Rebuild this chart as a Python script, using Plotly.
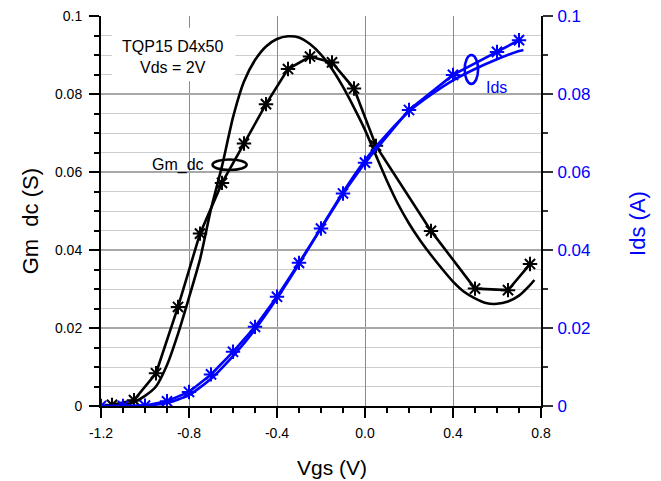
import plotly.graph_objects as go

# ---------------- data ----------------
# Measured Gm_dc (S) vs Vgs (V)
gm_meas_v = [-1.15, -1.05, -0.95, -0.85, -0.75, -0.65, -0.55, -0.45, -0.35, -0.25,
             -0.15, -0.05, 0.05, 0.3, 0.5, 0.65, 0.75]
gm_meas = [0.0003, 0.0015, 0.0084, 0.0254, 0.0442, 0.0572, 0.0673, 0.0774, 0.0864, 0.0896,
           0.0881, 0.0814, 0.0667, 0.0449, 0.0301, 0.0297, 0.0364]

# Modelled Gm_dc (S) vs Vgs (V)
gm_mod_v = [-1.2, -1.15, -1.1, -1.05, -1.0, -0.95, -0.9, -0.85, -0.8, -0.75, -0.7, -0.65,
            -0.6, -0.55, -0.5, -0.45, -0.4, -0.35, -0.3, -0.25, -0.2, -0.15, -0.1, -0.05,
            0.0, 0.05, 0.1, 0.15, 0.2, 0.25, 0.3, 0.35, 0.4, 0.45, 0.5, 0.55, 0.6, 0.65,
            0.7, 0.75, 0.77]
gm_mod = [0.0, 0.0001, 0.0003, 0.0010, 0.0026, 0.0050, 0.0105, 0.0185, 0.0278, 0.0376,
          0.0505, 0.0615, 0.0740, 0.0832, 0.0887, 0.0922, 0.0941, 0.0948, 0.0945, 0.0928,
          0.0901, 0.0864, 0.0818, 0.0765, 0.0708, 0.0642, 0.0577, 0.0518, 0.0468, 0.0425,
          0.0387, 0.0352, 0.0319, 0.0293, 0.0276, 0.0264, 0.0262, 0.0268, 0.0283, 0.0310,
          0.0323]

# Measured Ids (A) vs Vgs (V)
ids_meas_v = [-1.2, -1.1, -1.0, -0.9, -0.8, -0.7, -0.6, -0.5, -0.4, -0.3, -0.2, -0.1,
              0.0, 0.2, 0.4, 0.6, 0.7]
ids_meas = [0.0, 0.0, 0.0001, 0.0012, 0.0036, 0.0081, 0.0139, 0.0203, 0.0280, 0.0367,
            0.0455, 0.0545, 0.0624, 0.0759, 0.0849, 0.0908, 0.0938]

# Modelled Ids (A) vs Vgs (V)
ids_mod_v = [-1.2, -1.1, -1.0, -0.9, -0.8, -0.7, -0.6, -0.5, -0.4, -0.3, -0.2, -0.1,
             0.0, 0.1, 0.2, 0.3, 0.4, 0.5, 0.6, 0.7, 0.72]
ids_mod = [0.0, 0.0, 0.0001, 0.0008, 0.0028, 0.0070, 0.0128, 0.0196, 0.0276, 0.0364,
           0.0456, 0.0548, 0.0630, 0.0697, 0.0755, 0.0798, 0.0835, 0.0864, 0.0889, 0.0910,
           0.0913]

x_tick_vals = [-1.2, -0.8, -0.4, 0.0, 0.4, 0.8]
x_tick_text = ["-1.2", "-0.8", "-0.4", "0.0", "0.4", "0.8"]

# ---------------- figure ----------------
FONT = "Arial, Liberation Sans, sans-serif"
BLUE = "#0000ff"

fig = go.Figure()

fig.add_trace(go.Scatter(x=gm_mod_v, y=gm_mod, mode="lines",
                         line=dict(color="black", width=2.6, shape="spline", smoothing=0.6),
                         showlegend=False, hoverinfo="skip"))
fig.add_trace(go.Scatter(x=gm_meas_v, y=gm_meas, mode="lines+markers",
                         line=dict(color="black", width=2.6),
                         marker=dict(symbol="asterisk-open", size=12,
                                     line=dict(color="black", width=2)),
                         showlegend=False))
fig.add_trace(go.Scatter(x=ids_mod_v, y=ids_mod, mode="lines", yaxis="y2",
                         line=dict(color=BLUE, width=2.6, shape="spline", smoothing=0.6),
                         showlegend=False, hoverinfo="skip"))
fig.add_trace(go.Scatter(x=ids_meas_v, y=ids_meas, mode="lines+markers", yaxis="y2",
                         line=dict(color=BLUE, width=2.6),
                         marker=dict(symbol="asterisk-open", size=12,
                                     line=dict(color=BLUE, width=2)),
                         showlegend=False))

fig.update_layout(
    width=661, height=481,
    margin=dict(l=93, r=128, t=8, b=83, autoexpand=False),
    paper_bgcolor="white", plot_bgcolor="white",
    font=dict(family=FONT, color="black"),
    xaxis=dict(
        range=[-1.2, 0.8], tickmode="array", tickvals=x_tick_vals, ticktext=x_tick_text,
        automargin=False,
        ticks="outside", ticklen=10, tickwidth=1.5, tickcolor="black",
        showline=True, linecolor="black", linewidth=2,
        showgrid=True, gridcolor="#8a8a8a", gridwidth=1, zeroline=False,
        tickfont=dict(size=14, color="black"), ticklabelstandoff=3,
        ticklabeloverflow="allow",
        minor=dict(tickmode="linear", tick0=-1.2, dtick=0.1, ticks="outside", ticklen=5,
                   tickwidth=1.5, tickcolor="black", showgrid=False),
    ),
    yaxis=dict(
        range=[0, 0.1], tick0=0, dtick=0.02, automargin=False,
        ticks="outside", ticklen=10, tickwidth=1.5, tickcolor="black",
        showline=True, linecolor="black", linewidth=2,
        showgrid=True, gridcolor="#a8a8a8", gridwidth=1.5, zeroline=False,
        tickfont=dict(size=14, color="black"), ticklabelstandoff=4,
        ticklabeloverflow="allow",
        minor=dict(tick0=0, dtick=0.005, ticks="outside", ticklen=5, tickwidth=1.5,
                   tickcolor="black", showgrid=True, gridcolor="#cdcdcd", gridwidth=1),
    ),
    yaxis2=dict(
        range=[0, 0.1], tick0=0, dtick=0.02, overlaying="y", side="right", automargin=False,
        ticks="outside", ticklen=10, tickwidth=1.5, tickcolor="#333333",
        showline=True, linecolor="black", linewidth=2,
        showgrid=False, zeroline=False,
        tickfont=dict(size=17, color=BLUE), ticklabelstandoff=1,
        ticklabeloverflow="allow",
        minor=dict(tick0=0, dtick=0.01, ticks="outside", ticklen=5, tickwidth=1.5,
                   tickcolor="#333333", showgrid=False),
    ),
)

# white box for the device label
fig.add_shape(type="rect", xref="x", yref="y", x0=-1.149, x1=-0.589, y0=0.0833, y1=0.0970,
              fillcolor="white", line=dict(width=0), layer="above")
fig.add_annotation(x=-0.876, y=0.0894, xref="x", yref="y", showarrow=False,
                   text="TQP15 D4x50<br>Vds = 2V", font=dict(size=16, color="black"),
                   align="center")

# Gm_dc label + ellipse
fig.add_annotation(x=-0.852, y=0.0619, xref="x", yref="y", showarrow=False,
                   text="Gm_dc", font=dict(size=16, color="black"))
fig.add_shape(type="circle", xref="x", yref="y", x0=-0.693, x1=-0.538, y0=0.0605, y1=0.0632,
              line=dict(color="black", width=2.6), layer="above")

# Ids label + ellipse
fig.add_annotation(x=0.598, y=0.0817, xref="x", yref="y", showarrow=False,
                   text="Ids", font=dict(size=16, color=BLUE))
fig.add_shape(type="circle", xref="x", yref="y2", x0=0.453, x1=0.514, y0=0.0826, y1=0.0900,
              line=dict(color=BLUE, width=2.6), layer="above")

# axis titles
fig.add_annotation(x=-0.161, y=0.474, xref="paper", yref="paper", showarrow=False,
                   xanchor="center", yanchor="middle",
                   text="Gm\u00a0\u00a0dc (S)", textangle=-90, font=dict(size=22, color="black"))
fig.add_annotation(x=1.2205, y=0.467, xref="paper", yref="paper", showarrow=False,
                   xanchor="center", yanchor="middle",
                   text="Ids (A)", textangle=-90, font=dict(size=22, color=BLUE))
fig.add_annotation(x=0.525, y=-0.158, xref="paper", yref="paper", showarrow=False,
                   xanchor="center", yanchor="middle",
                   text="Vgs (V)", font=dict(size=21, color="black"))

fig.write_html("out.html")
